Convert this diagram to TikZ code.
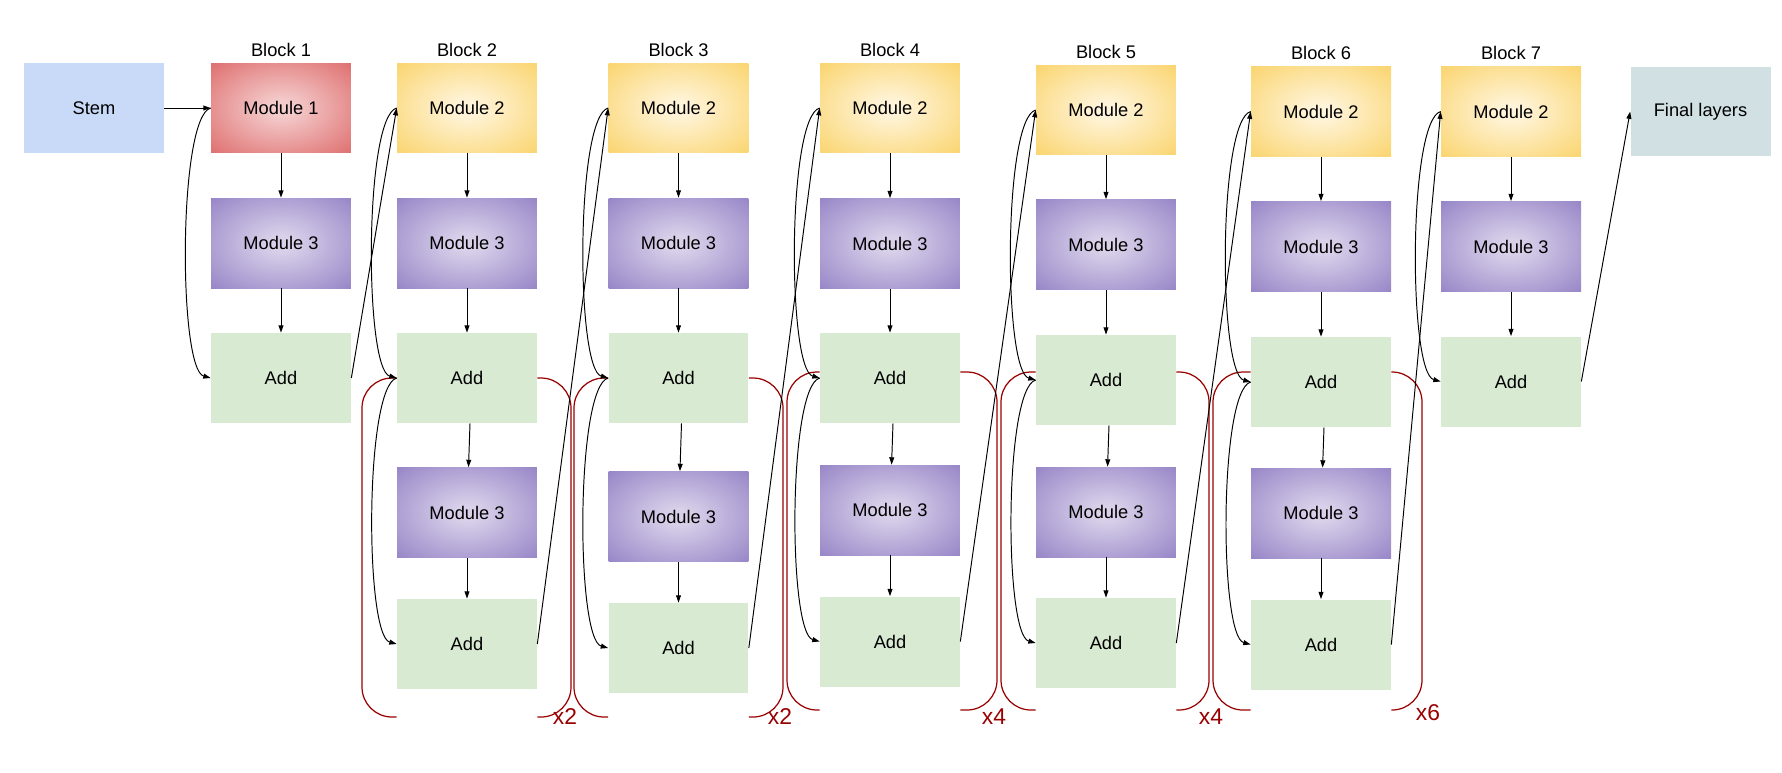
\documentclass[tikz,border=0pt]{standalone}
\usepackage{fontspec}
\setmainfont{Liberation Sans}
\usetikzlibrary{arrows.meta,positioning}

\definecolor{stemblue}{HTML}{C9DAF8}
\definecolor{finalgrey}{HTML}{D0E0E3}
\definecolor{addgreen}{HTML}{D9EAD3}
\definecolor{repred}{HTML}{990000}
\definecolor{m1in}{HTML}{F4CCCC}
\definecolor{m1out}{HTML}{DC6262}
\definecolor{m2in}{HTML}{FFF4D9}
\definecolor{m2out}{HTML}{F9D060}
\definecolor{m3in}{HTML}{D9D1EA}
\definecolor{m3out}{HTML}{8E7BC2}

\pgfdeclareradialshading{modone}{\pgfpoint{0bp}{0bp}}{color(0bp)=(m1in); color(4bp)=(m1in); color(40bp)=(m1out); color(71bp)=(m1out)}
\pgfdeclareradialshading{modtwo}{\pgfpoint{0bp}{0bp}}{color(0bp)=(m2in); color(4bp)=(m2in); color(40bp)=(m2out); color(71bp)=(m2out)}
\pgfdeclareradialshading{modthree}{\pgfpoint{0bp}{0bp}}{color(0bp)=(m3in); color(4bp)=(m3in); color(40bp)=(m3out); color(71bp)=(m3out)}

\tikzset{
  box/.style={minimum width=2.8cm, minimum height=1.8cm, inner sep=0pt, font=\fontsize{10.4}{12}\selectfont},
  mod1/.style={box, shading=modone},
  mod2/.style={box, shading=modtwo},
  mod3/.style={box, shading=modthree},
  addbox/.style={box, fill=addgreen},
  blocklbl/.style={inner sep=0pt, font=\fontsize{10.4}{12}\selectfont},
  arr/.style={-{Triangle[length=4.2pt,width=2.8pt]}, line width=0.55pt},
  bypass/.style={out=195, in=165, looseness=0.32},
  brk/.style={draw=repred, line width=0.7pt, rounded corners=0.6cm},
  times/.style={text=repred, inner sep=0pt, font=\fontsize{13}{15}\selectfont}
}

\begin{document}
\begin{tikzpicture}[x=0.02cm, y=0.02cm]
\useasboundingbox (0,0) rectangle (1782,-772);

% stem and block 1
\node[box, fill=stemblue] (stem) at (94,-108) {Stem};
\node[mod1] (m1-1) at (281,-108) {Module 1};
\node[mod3] (m3-1) at (281,-243) {Module 3};
\node[addbox] (add-1) at (281,-378) {Add};
\node[blocklbl, above=0.12cm of m1-1] (lbl-1) {Block 1};

% blocks 2 to 6
\foreach \n/\x/\ya/\yb/\yc/\yd/\ye in {2/467/108/243/378/512.5/644, 3/678.5/108/243/378/516.5/648,
    4/890/108/243.5/378/510/641.5, 5/1106/110/244.5/380/512/643, 6/1321/111.5/246.5/382/513/644.5}
{
  \node[mod2] (m2-\n) at (\x,-\ya) {Module 2};
  \node[mod3] (m3-\n) at (\x,-\yb) {Module 3};
  \node[addbox] (add-\n) at (\x,-\yc) {Add};
  \node[mod3] (m3x-\n) at (\x,-\yd) {Module 3};
  \node[addbox] (addx-\n) at (\x,-\ye) {Add};
  \node[blocklbl, above=0.12cm of m2-\n] (lbl-\n) {Block \n};
}

% block 7 and final layers
\node[mod2] (m2-7) at (1511,-111.5) {Module 2};
\node[mod3] (m3-7) at (1511,-246.5) {Module 3};
\node[addbox] (add-7) at (1511,-381.5) {Add};
\node[blocklbl, above=0.12cm of m2-7] (lbl-7) {Block 7};
\node[box, fill=finalgrey] (final) at (1700.5,-111.5) {Final layers};

% repeat brackets
\foreach \n/\bl/\br/\yt/\yb/\lx/\ly/\rep in {2/362/571/378/717/565/717/x2, 3/574/783/378/717/780/717/x2,
    4/787/997/372/710/994/717/x4, 5/1001/1209/372/710/1211/717/x4, 6/1213/1422/372/710/1428/713/x6}
{
  \draw[brk] (add-\n.west |- 0,-\yt) -- (\bl,-\yt) -- (\bl,-\yb) -- (add-\n.west |- 0,-\yb);
  \draw[brk] (add-\n.east |- 0,-\yt) -- (\br,-\yt) -- (\br,-\yb) -- (add-\n.east |- 0,-\yb);
  \node[times] (rep-\n) at (\lx,-\ly) {\rep};
}

% connectors
\draw[arr] (stem) -- (m1-1);
\draw[arr] (m1-1) -- (m3-1);
\draw[arr] (m3-1) -- (add-1);
\draw[arr] (m1-1.west) to[bypass] (add-1.west);
\draw[arr] (add-1.east) -- (m2-2.west);
\foreach \n in {2,...,6}
{
  \pgfmathtruncatemacro\nxt{\n+1}
  \draw[arr] (m2-\n) -- (m3-\n);
  \draw[arr] (m3-\n) -- (add-\n);
  \draw[arr] ([xshift=0.06cm]add-\n.south) -- (m3x-\n);
  \draw[arr] (m3x-\n) -- (addx-\n);
  \draw[arr] (m2-\n.west) to[bypass] (add-\n.west);
  \draw[arr] (add-\n.west) to[bypass] (addx-\n.west);
  \draw[arr] (addx-\n.east) -- (m2-\nxt.west);
}
\draw[arr] (m2-7) -- (m3-7);
\draw[arr] (m3-7) -- (add-7);
\draw[arr] (m2-7.west) to[bypass] (add-7.west);
\draw[arr] (add-7.east) -- (final.west);
\end{tikzpicture}
\end{document}
